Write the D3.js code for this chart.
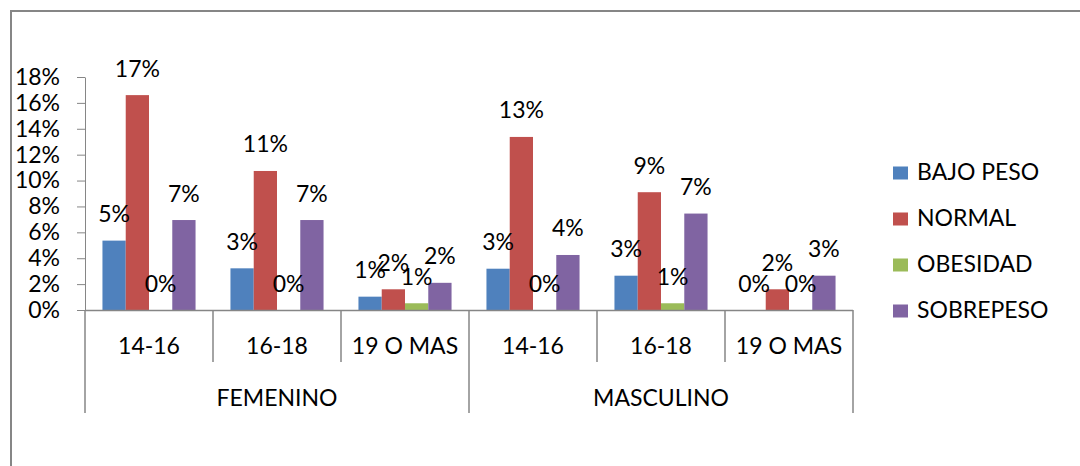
<!DOCTYPE html>
<html><head><meta charset="utf-8">
<script src="https://cdn.jsdelivr.net/npm/d3@7"></script>
<style>
html,body{margin:0;padding:0;background:#fff;}
svg text{font-family:Lato,"Open Sans",sans-serif;fill:#000;}
</style></head>
<body><svg id="c" width="1080" height="466"></svg>
<script>
const genders = ["FEMENINO", "MASCULINO"];
const ages = ["14-16", "16-18", "19 O MAS"];
const seriesNames = ["BAJO PESO", "NORMAL", "OBESIDAD", "SOBREPESO"];
const seriesColors = ["#4F81BD", "#C0504D", "#9BBB59", "#8064A2"];
const bajoPeso  = [5.36, 3.22, 1.03, 3.19, 2.65, 0];
const normal    = [16.6, 10.74, 1.6, 13.37, 9.1, 1.6];
const obesidad  = [0, 0, 0.52, 0, 0.52, 0];
const sobrepeso = [6.95, 6.95, 2.1, 4.25, 7.45, 2.65];
const yTicks = [0, 2, 4, 6, 8, 10, 12, 14, 16, 18];

(function () {
const seriesValues = [bajoPeso, normal, obesidad, sobrepeso];
const cats = [];
genders.forEach((g, gi) => ages.forEach((a, ai) => cats.push({g, a, i: gi * ages.length + ai})));

const svg = d3.select("#c");
const FS = 23;
const axisColor = "#868686";
const pLeft = 85, pRight = 853, pTop = 77, pBase = 310;

svg.append("rect").attr("x", 11).attr("y", 11).attr("width", 1080).attr("height", 470)
  .attr("fill", "#fff").attr("stroke", axisColor).attr("stroke-width", 2);

const x0 = d3.scaleBand().domain(cats.map(c => c.i)).range([pLeft, pRight]).padding(0);
const x1 = d3.scaleBand().domain(seriesNames).range([0, x0.bandwidth()]).paddingInner(0).paddingOuter(0.75);
const y = d3.scaleLinear().domain([0, 18]).range([pBase, pTop]);
const xg = d3.scaleBand().domain(genders).range([pLeft, pRight]).padding(0);

// y axis
const ya = svg.append("g").attr("transform", `translate(${pLeft},0)`)
  .call(d3.axisLeft(y).tickValues(yTicks).tickSize(8).tickSizeOuter(0).tickPadding(17).tickFormat(d => d + "%"));
ya.select(".domain").attr("stroke", axisColor);
ya.selectAll(".tick line").attr("stroke", axisColor);
ya.selectAll("text").attr("font-size", FS).attr("font-family", "Lato").attr("fill", "#000");

// bars
const bars = svg.append("g");
seriesNames.forEach((s, si) => {
  bars.selectAll(null).data(cats).enter().append("rect")
    .attr("x", d => x0(d.i) + x1(s))
    .attr("y", d => y(seriesValues[si][d.i]))
    .attr("width", x1.bandwidth())
    .attr("height", d => pBase - y(seriesValues[si][d.i]))
    .attr("fill", seriesColors[si]);
});

// x axis line
svg.append("line").attr("x1", pLeft).attr("x2", pRight).attr("y1", pBase + 0.5).attr("y2", pBase + 0.5)
  .attr("stroke", axisColor).attr("stroke-width", 1.5);

// tick separators
const sepIdx = d3.range(cats.length + 1);
svg.selectAll(null).data(sepIdx).enter().append("line")
  .attr("x1", d => d < cats.length ? x0(d) : pRight)
  .attr("x2", d => d < cats.length ? x0(d) : pRight)
  .attr("y1", pBase)
  .attr("y2", d => (d % ages.length === 0) ? 413 : 362)
  .attr("stroke", axisColor).attr("stroke-width", 1.5);

// sub labels
svg.selectAll(null).data(cats).enter().append("text")
  .attr("x", d => x0(d.i) + x0.bandwidth() / 2).attr("y", 354)
  .attr("text-anchor", "middle").attr("font-size", FS).text(d => d.a);

// group labels
svg.selectAll(null).data(genders).enter().append("text")
  .attr("x", d => xg(d) + xg.bandwidth() / 2).attr("y", 405.5)
  .attr("text-anchor", "middle").attr("font-size", FS).text(d => d);

// data labels
seriesNames.forEach((s, si) => {
  svg.selectAll(null).data(cats).enter().append("text")
    .attr("x", d => x0(d.i) + x1(s) + x1.bandwidth() / 2)
    .attr("y", d => y(seriesValues[si][d.i]) - 18.5)
    .attr("text-anchor", "middle").attr("font-size", FS)
    .text(d => Math.round(seriesValues[si][d.i]) + "%");
});

// legend
const lg = svg.append("g");
seriesNames.forEach((s, si) => {
  const by = 180 + si * 46;
  lg.append("rect").attr("x", 893).attr("y", by - 13.5).attr("width", 15).attr("height", 13).attr("fill", seriesColors[si]);
  lg.append("text").attr("x", 917).attr("y", by).attr("font-size", FS).text(s);
});
})();
</script></body></html>
